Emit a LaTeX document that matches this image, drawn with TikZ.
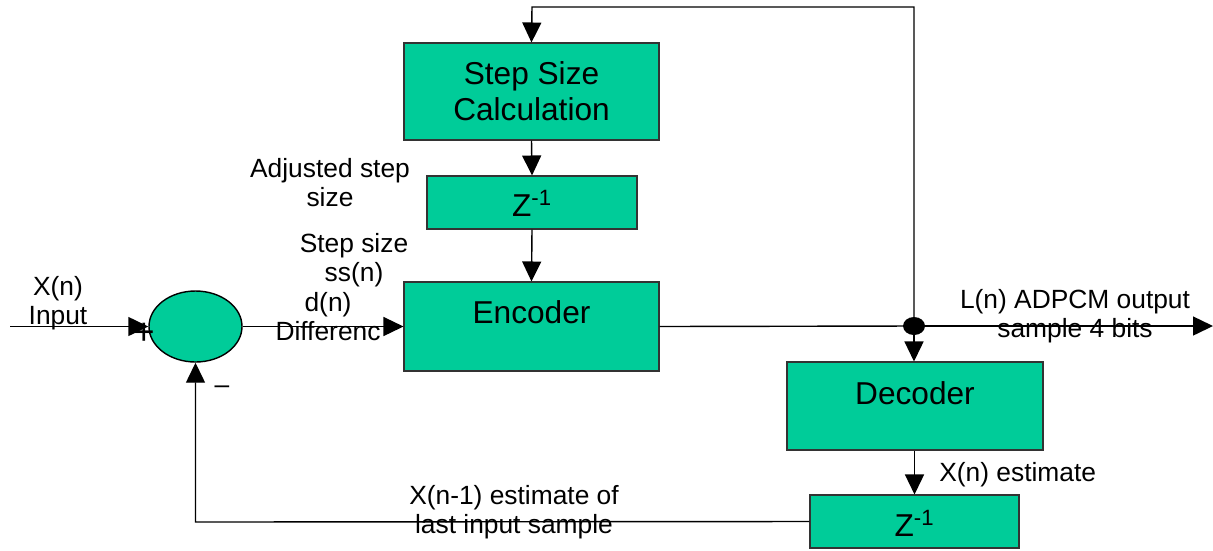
\documentclass[tikz,border=0pt]{standalone}
\usepackage{fontspec}
\setmainfont{Liberation Sans}
\usepackage{tikz}
\usetikzlibrary{arrows.meta}
\usetikzlibrary{shapes.geometric}

\definecolor{blockgreen}{HTML}{00CC99}

\tikzset{
	block/.style={draw=black!80, line width=0.6pt, fill=blockgreen, inner sep=0pt},
	blocktext/.style={font=\fontsize{18}{20.5}\selectfont, align=center},
	sig/.style={font=\fontsize{15}{16.5}\selectfont, align=center, inner sep=0pt},
	wire/.style={line width=0.8pt, black},
	arr/.style={wire, -{Triangle[length=4mm, width=3.8mm]}}
}

\begin{document}
\begin{tikzpicture}[x=0.2mm, y=-0.2mm]
	\useasboundingbox (0,0) rectangle (1213,550);

	% blocks
	\node (calc) [block, minimum width=51mm, minimum height=19.4mm] at (531.5,91.5) {};
	\node (calctxt) [blocktext] at (531.5,91) {Step Size\\Calculation};
	\node (zup) [block, minimum width=42mm, minimum height=10.6mm] at (532,202.5) {};
	\node (zuptxt) [blocktext] at (532,203) {Z\textsuperscript{-1}};
	\node (enc) [block, minimum width=51mm, minimum height=17.8mm] at (531.5,326.5) {};
	\node (enctxt) [blocktext] at (531.5,312) {Encoder};
	\node (dec) [block, minimum width=51.2mm, minimum height=17.6mm] at (915,406) {};
	\node (dectxt) [blocktext] at (915,393) {Decoder};
	\node (zdn) [block, minimum width=41.8mm, minimum height=10.6mm] at (914.5,521.5) {};
	\node (zdntxt) [blocktext] at (914.5,523) {Z\textsuperscript{-1}};
	\node (sum) [ellipse, draw=black, line width=0.8pt, fill=blockgreen,
		minimum width=18.6mm, minimum height=14.2mm, inner sep=0pt] at (195.5,326.5) {};
	\node (tap) [ellipse, fill=black, minimum width=4.4mm, minimum height=3.6mm,
		inner sep=0pt] at (914,326) {};

	\coordinate (in) at (10,326.5);
	\coordinate (out) at (1213,326);
	\coordinate (topright) at (914,7);
	\coordinate (topleft) at (532,7);
	\coordinate (botleft) at (195.5,522);

	% connectors
	\draw [arr] (in) -- (sum.west);
	\draw [arr] (sum.east) -- (enc.west);
	\draw [wire] (enc.east) -- (tap.center);
	\draw [arr] (tap.center) -- (out);
	\draw [arr] (tap.center) -- (topright) -- (topleft) -- (calc.north);
	\draw [arr] (calc.south) -- (zup.north);
	\draw [arr] (zup.south) -- (enc.north);
	\draw [arr] (tap.south) -- (tap.south |- dec.north);
	\draw [arr] (dec.south -| zdn.north) -- (zdn.north);
	\draw [arr] (zdn.west) -- (botleft) -- (sum.south);

	% labels
	\node (xin) [sig] at (58,303) {X(n)\\Input};
	\node (plus) [sig, font=\fontsize{21}{21}\selectfont] at (144,334) {+};
	\node (minus) [sig] at (222,390) {--};
	\node (dn) [sig] at (328,317) {d(n)\\Differenc};
	\node (ssn) [sig] at (354,260) {Step size\\ss(n)};
	\node (adj) [sig] at (330,183) {Adjusted step\\size};
	\node (ln) [sig] at (1075,316) {L(n) ADPCM output\\sample 4 bits};
	\node (xest) [sig, anchor=west] at (939,475) {X(n) estimate};
	\node (xprev) [sig] at (514,512) {X(n-1) estimate of\\last input sample};
\end{tikzpicture}
\end{document}
